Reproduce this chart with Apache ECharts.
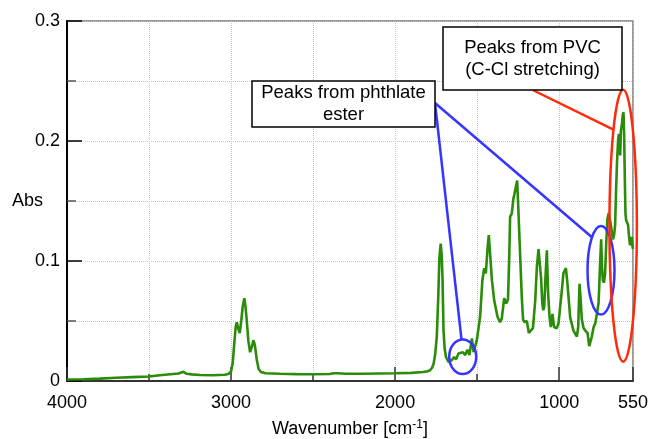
<!DOCTYPE html>
<html lang="en">
<head>
  <meta charset="UTF-8">
  <title>IR spectrum</title>
  <script src="https://cdn.jsdelivr.net/npm/echarts@6/dist/echarts.min.js"></script>
  <style>
    html, body { margin: 0; padding: 0; background: #fff; }
    #main { width: 650px; height: 439px; }
  </style>
</head>
<body>
<div id="main"></div>
<script type="text/javascript">
  // wavenumber [cm-1] and absorbance
  var wavenumber = [4000, 3900, 3800, 3700, 3600, 3500, 3420, 3370, 3320, 3291, 3270, 3240, 3189, 3110, 3040, 3016,
    3000, 2990, 2982, 2972, 2965, 2955, 2947, 2938, 2929, 2919, 2912, 2904, 2895, 2884, 2874, 2864, 2855, 2843, 2832, 2818,
    2790, 2700, 2600, 2500, 2400, 2375, 2364, 2350, 2300, 2200, 2100, 2000, 1900, 1830, 1800, 1787, 1775, 1766, 1756, 1746,
    1737, 1730, 1722, 1716, 1711, 1705, 1698, 1690, 1675, 1654, 1640, 1628, 1614, 1604, 1587, 1573, 1559, 1547, 1532, 1522,
    1502, 1482, 1468, 1457, 1447, 1437, 1429, 1421, 1410, 1396, 1384, 1376, 1360, 1350, 1335, 1323, 1312, 1305, 1299, 1289,
    1279, 1274, 1266, 1256, 1248, 1238, 1228, 1220, 1210, 1197, 1185, 1177, 1160, 1146, 1136, 1126, 1110, 1103, 1097, 1091,
    1084, 1075, 1068, 1059, 1051, 1041, 1031, 1015, 1004, 994, 984, 974, 959, 950, 943, 933, 913, 892, 884, 876, 870, 862,
    851, 841, 827, 817, 809, 801, 790, 780, 770, 760, 756, 750, 744, 739, 734, 727, 720, 713, 706, 698, 693, 685, 679, 672,
    665, 659, 653, 647, 641, 636, 632, 628, 624, 617, 612, 608, 604, 600, 596, 592, 586, 580, 574, 568, 563, 557, 553, 550];
  var absorbance = [0.0012, 0.0015, 0.002, 0.0027, 0.0032, 0.0037, 0.005, 0.0056, 0.0062, 0.0077, 0.006, 0.0055, 0.005, 0.0048, 0.0052, 0.0058,
    0.008, 0.015, 0.0285, 0.045, 0.049, 0.043, 0.040, 0.050, 0.062, 0.069, 0.062, 0.050, 0.034, 0.024, 0.028, 0.034, 0.030, 0.0175, 0.010, 0.0075,
    0.0065, 0.006, 0.0057, 0.0056, 0.0058, 0.0065, 0.0075, 0.0065, 0.006, 0.006, 0.0062, 0.0064, 0.0068, 0.0075, 0.0082, 0.009, 0.011, 0.014, 0.022, 0.037,
    0.070, 0.103, 0.1145, 0.105, 0.085, 0.042, 0.027, 0.020, 0.016, 0.0175, 0.020, 0.018, 0.023, 0.0216, 0.024, 0.0216, 0.026, 0.0216, 0.0355, 0.024,
    0.034, 0.0535, 0.084, 0.094, 0.0896, 0.110, 0.1215, 0.106, 0.084, 0.067, 0.066, 0.0535, 0.049, 0.052, 0.069, 0.0646, 0.068, 0.10, 0.137, 0.1395,
    0.152, 0.155, 0.154, 0.167, 0.14, 0.105, 0.07, 0.051, 0.049, 0.050, 0.040, 0.040, 0.044, 0.067, 0.095, 0.110, 0.085, 0.065, 0.059, 0.062,
    0.085, 0.109, 0.075, 0.0535, 0.045, 0.056, 0.045, 0.044, 0.048, 0.062, 0.075, 0.09, 0.094, 0.082, 0.070, 0.053, 0.042, 0.037, 0.045, 0.081, 0.07, 0.051,
    0.044, 0.042, 0.040, 0.029, 0.033, 0.037, 0.045, 0.048, 0.056, 0.065, 0.078, 0.1, 0.118, 0.095, 0.084, 0.082, 0.09, 0.115, 0.135, 0.14, 0.141, 0.13, 0.124, 0.118,
    0.122, 0.13, 0.16, 0.184, 0.2, 0.206, 0.205, 0.188, 0.208, 0.215, 0.222, 0.224, 0.205, 0.17, 0.14, 0.134, 0.132, 0.13, 0.12, 0.113, 0.117, 0.12, 0.112, 0.11];

  var xLabelValues = [4000, 3000, 2000, 1000, 550];
  var yLabels = ['0', '0.1', '0.2', '0.3'];

  var font = 'Liberation Sans, Arial, sans-serif';
  var pts = [];
  for (let i = 0; i < wavenumber.length; i++) {
    pts.push([wavenumber[i], absorbance[i]]);
  }

  var chart = echarts.init(document.getElementById('main'));

  // helper axes run on (4000 - wavenumber) so ticks can start at 4000
  var option = {
    animation: false,
    backgroundColor: '#fff',
    grid: {
      left: 67, right: 17, top: 21, bottom: 58,
      outerBoundsMode: 'none', containLabel: false,
      show: true, borderColor: '#777', borderWidth: 1.5, backgroundColor: 'transparent'
    },
    xAxis: [
      {
        type: 'value', min: 550, max: 4000, inverse: true, position: 'bottom',
        axisLine: { show: false }, axisTick: { show: false }, axisLabel: { show: false }, splitLine: { show: false }
      },
      {
        type: 'value', min: 0, max: 3450, interval: 500, position: 'bottom',
        axisLine: { show: true, onZero: false, lineStyle: { color: '#333', width: 2 } },
        axisTick: { show: true, inside: true, length: 7, lineStyle: { color: '#333', width: 1.5 } },
        axisLabel: {
          interval: 0, margin: 13, fontSize: 18, color: '#000', fontFamily: font,
          formatter: function (v) {
            var w = Math.round(4000 - v);
            return xLabelValues.indexOf(w) >= 0 ? String(w) : '';
          }
        },
        splitLine: { show: true, lineStyle: { color: '#c4c4c4', type: 'dotted', width: 1 } },
        name: 'Wavenumber [cm{sup|-1}]',
        nameLocation: 'middle',
        nameMoveOverlap: false,
        nameGap: 38,
        nameTextStyle: {
          fontSize: 18, color: '#000', fontFamily: font,
          rich: { sup: { fontSize: 12, fontFamily: font, color: '#000', padding: [0, 0, 9, 0] } }
        }
      },
      {
        type: 'value', min: 0, max: 3450, interval: 1000, position: 'bottom',
        axisLine: { show: false },
        axisTick: { show: true, inside: true, length: 14, lineStyle: { color: '#333', width: 1.5 } },
        axisLabel: { show: false },
        splitLine: { show: false }
      }
    ],
    yAxis: {
      type: 'value', min: 0, max: 0.3, interval: 0.1,
      axisLine: { show: true, onZero: false, lineStyle: { color: '#000', width: 2 } },
      axisTick: { show: true, inside: true, length: 15, lineStyle: { color: '#000', width: 1.5 } },
      minorTick: { show: true, splitNumber: 2, length: 9, lineStyle: { color: '#555', width: 1.5 } },
      splitLine: { show: true, lineStyle: { color: '#c4c4c4', type: 'dotted', width: 1 } },
      minorSplitLine: { show: true, lineStyle: { color: '#c4c4c4', type: 'dotted', width: 1 } },
      axisLabel: {
        margin: 7, fontSize: 18, color: '#000', fontFamily: font,
        formatter: function (v) { return yLabels[Math.round(v * 10)]; }
      },
      name: 'Abs',
      nameLocation: 'middle',
      nameRotate: 0,
      nameMoveOverlap: false,
      nameGap: 24,
      nameTextStyle: { fontSize: 18, color: '#000', fontFamily: font, padding: [6, 0, 0, 0] }
    },
    series: [
      {
        type: 'line',
        xAxisIndex: 0,
        data: pts,
        showSymbol: false,
        smooth: false,
        lineStyle: { color: '#2a8c08', width: 2.6 },
        z: 3
      }
    ]
  };
  chart.setOption(option);

  // annotations: ellipses placed in data coordinates, boxes in pixels
  function px(w, a) {
    return chart.convertToPixel({ xAxisIndex: 0, yAxisIndex: 0 }, [w, a]);
  }
  function onEllipse(c, rx, ry, deg) {
    var t = deg * Math.PI / 180;
    return [c[0] + rx * Math.cos(t), c[1] + ry * Math.sin(t)];
  }
  var blue = '#3535ff', red = '#ff2a0a';
  var cSmall = px(1588, 0.0202), cBig = px(745, 0.0923), cPvc = px(610, 0.1294);
  var eSmall = [13.5, 17.3], eBig = [13.5, 44.3], ePvc = [13.7, 136];
  var p1 = onEllipse(cSmall, eSmall[0], eSmall[1], 265);
  var p2 = onEllipse(cBig, eBig[0], eBig[1], 228);
  var p3 = onEllipse(cPvc, ePvc[0], ePvc[1], 225);

  function ell(c, r, color) {
    return { type: 'ellipse', z: 100, shape: { cx: c[0], cy: c[1], rx: r[0], ry: r[1] },
      style: { fill: null, stroke: color, lineWidth: 2.5 } };
  }
  function seg(a, b, color) {
    return { type: 'line', z: 100, shape: { x1: a[0], y1: a[1], x2: b[0], y2: b[1] },
      style: { stroke: color, lineWidth: 2.5 } };
  }

  chart.setOption({
    graphic: [
      ell(cSmall, eSmall, blue),
      ell(cBig, eBig, blue),
      ell(cPvc, ePvc, red),
      seg([435, 103], p1, blue),
      seg([435, 103], p2, blue),
      seg([532.7, 90], p3, red),
      { type: 'rect', z: 101, shape: { x: 252, y: 81, width: 183, height: 46 },
        style: { fill: '#fff', stroke: '#000', lineWidth: 1.5 } },
      { type: 'text', z: 102, x: 343.5, y: 104,
        style: { text: 'Peaks from phthlate\nester', font: '18.5px ' + font, fill: '#000',
          align: 'center', verticalAlign: 'middle', lineHeight: 22 } },
      { type: 'rect', z: 101, shape: { x: 443, y: 27, width: 179, height: 63 },
        style: { fill: '#fff', stroke: '#000', lineWidth: 1.5 } },
      { type: 'text', z: 102, x: 532.5, y: 59,
        style: { text: 'Peaks from PVC\n(C-Cl stretching)', font: '18.5px ' + font, fill: '#000',
          align: 'center', verticalAlign: 'middle', lineHeight: 22 } }
    ]
  });
</script>
</body>
</html>
